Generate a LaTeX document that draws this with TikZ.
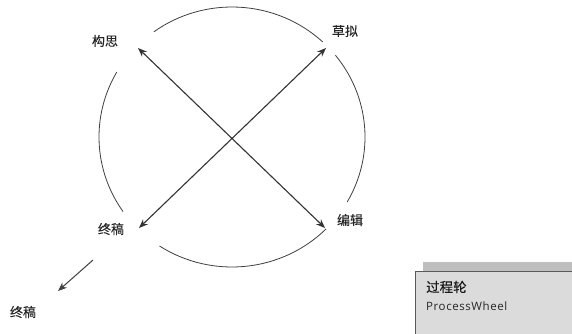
\documentclass[tikz,border=0pt]{standalone}
\usepackage{fontspec}
\newfontfamily\cjk[FakeBold=0.25]{Noto Sans CJK SC}
\newfontfamily\latin{Open Sans}
\usetikzlibrary{arrows.meta}
\tikzset{
  lbl/.style={font=\cjk\fontsize{13}{15}\selectfont, text=black!85, inner sep=0pt},
  arc/.style={draw=black!75, line width=0.8pt},
  arr/.style={draw=black!80, line width=1.1pt, {Stealth[length=9pt,width=7pt]}-{Stealth[length=9pt,width=7pt]}},
  arr1/.style={draw=black!75, line width=1pt, -{Stealth[length=9pt,width=7pt]}},
}
\begin{document}
\begin{tikzpicture}[x=1pt,y=1pt]
\clip (0,0) rectangle (572,-334);
\fill[white] (0,0) rectangle (572,-334);
% circle arcs
\coordinate (c) at (232,-137);
\draw[arc] (c) ++(47:133 and 130) arc[start angle=47,end angle=126,x radius=133,y radius=130];
\draw[arc] (c) ++(-30:133 and 130) arc[start angle=-30,end angle=39,x radius=133,y radius=130];
\draw[arc] (c) ++(150:133 and 130) arc[start angle=150,end angle=215,x radius=133,y radius=130];
\draw[arc] (c) ++(237:133 and 130) arc[start angle=237,end angle=315,x radius=133,y radius=130];
% labels
\node[lbl] (gousi) at (105,-41) {构思};
\node[lbl] (caoni) at (345,-31) {草拟};
\node[lbl] (zhonggao) at (111,-229) {终稿};
\node[lbl] (bianji) at (350,-220) {编辑};
\node[lbl] (zhonggao2) at (23,-312) {终稿};
% arrow tips
\coordinate (tGS) at (138,-48);
\coordinate (tBJ) at (325,-228);
\coordinate (tCN) at (326,-48);
\coordinate (tZG) at (139,-228);
\draw[arr] (tGS) -- (tBJ);
\draw[arr] (tZG) -- (tCN);
\coordinate (s1) at (93,-260);
\coordinate (s2) at (58,-291);
\draw[arr1] (s1) -- (s2);
% legend box
\fill[black!25] (423,-262) rectangle (580,-340);
\draw[draw=black!65, fill=black!14, line width=0.8pt] (415,-271) rectangle (580,-340);
\node[anchor=west, font=\cjk\fontsize{13.5}{15}\selectfont, inner sep=0pt, text=black!90] (t1) at (426,-287) {过程轮};
\node[anchor=west, font=\latin\fontsize{11.5}{13}\selectfont, inner sep=0pt, text=black!85] (t2) at (426,-306) {\addfontfeature{LetterSpace=5}ProcessWheel};
\end{tikzpicture}
\end{document}
